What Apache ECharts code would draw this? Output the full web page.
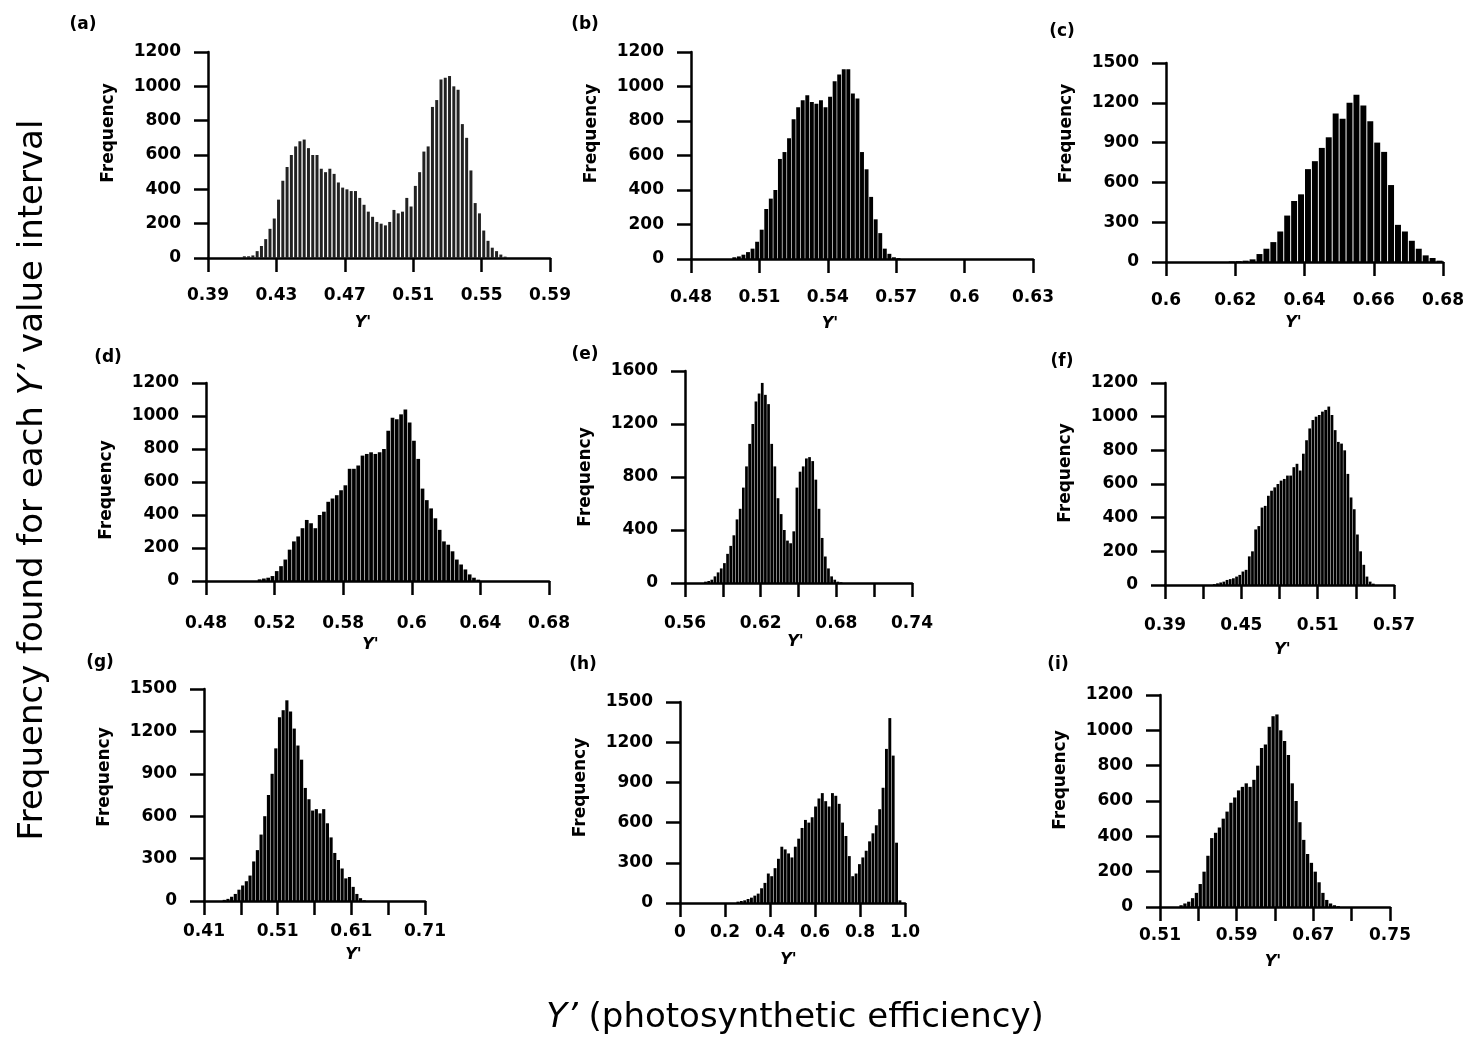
<!DOCTYPE html>
<html>
<head>
<meta charset="utf-8">
<script src="https://cdn.jsdelivr.net/npm/echarts@6/dist/echarts.min.js"></script>
<style>
html, body { margin: 0; padding: 0; background: #fff; }
#chart { width: 1467px; height: 1037px; }
</style>
</head>
<body>
<div id="chart"></div>
<script>
// bin counts (first bin edge + bin width)
var startA = 0.41, widthA = 0.0025;
var countsA = [10, 10, 15, 40, 70, 110, 170, 230, 340, 450, 530, 600, 650, 680, 690, 640, 600, 600, 520, 500,
  520, 490, 440, 410, 400, 390, 390, 350, 310, 270, 240, 210, 200, 190, 210, 280, 260, 270, 350, 300,
  420, 500, 620, 650, 880, 920, 1040, 1050, 1060, 1000, 980, 780, 700, 510, 320, 260, 160, 100, 60, 40, 20, 8];

var startB = 0.498, widthB = 0.002;
var countsB = [10, 15, 25, 40, 60, 100, 170, 290, 350, 400, 580, 620, 700, 810, 880, 920, 950, 910, 900, 920,
  880, 940, 1030, 1070, 1100, 1100, 960, 930, 620, 520, 360, 230, 150, 60, 30, 10, 5];

var startC = 0.618, widthC = 0.002;
var countsC = [4, 6, 10, 20, 60, 100, 150, 230, 350, 460, 510, 700, 760, 860, 940, 1120, 1080, 1200, 1260, 1180,
  1060, 900, 830, 580, 280, 230, 160, 100, 50, 30, 10];

var startD = 0.51, widthD = 0.0025;
var countsD = [10, 15, 20, 30, 60, 90, 130, 190, 240, 270, 320, 370, 350, 320, 400, 420, 480, 500, 520, 550,
  580, 680, 680, 700, 760, 770, 780, 770, 780, 800, 910, 990, 980, 1010, 1040, 960, 850, 740, 560, 490,
  440, 380, 310, 240, 220, 180, 130, 100, 70, 40, 20, 8];

var startE = 0.575, widthE = 0.0025;
var countsE = [10, 15, 25, 50, 80, 110, 150, 220, 280, 360, 480, 560, 720, 880, 1050, 1200, 1370, 1430, 1510, 1420,
  1350, 1050, 880, 640, 520, 400, 320, 300, 390, 720, 840, 880, 940, 950, 920, 780, 560, 340, 200, 110,
  50, 25, 10, 5];

var startF = 0.4275, widthF = 0.0025;
var countsF = [5, 10, 15, 20, 30, 35, 40, 50, 60, 80, 90, 170, 200, 330, 350, 460, 470, 530, 560, 580,
  600, 620, 630, 650, 650, 700, 720, 680, 780, 860, 930, 980, 1000, 1010, 1030, 1040, 1060, 1010, 920, 850,
  840, 800, 660, 520, 450, 300, 200, 120, 50, 20, 8];

var startG = 0.435, widthG = 0.005;
var countsG = [8, 15, 30, 50, 80, 110, 140, 180, 280, 360, 470, 600, 750, 900, 1080, 1300, 1350, 1420, 1340, 1220,
  1100, 1000, 800, 720, 640, 650, 620, 650, 550, 450, 340, 290, 230, 160, 170, 100, 50, 20, 5];

var startH = 0.25, widthH = 0.015;
var countsH = [10, 15, 20, 30, 40, 55, 70, 110, 150, 220, 200, 260, 330, 420, 400, 370, 340, 420, 480, 560,
  620, 600, 640, 720, 780, 820, 760, 720, 820, 800, 740, 600, 500, 350, 200, 220, 290, 340, 390, 460,
  520, 580, 700, 860, 1150, 1380, 1100, 450, 20];

var startI = 0.53, widthI = 0.004;
var countsI = [10, 20, 30, 50, 80, 130, 200, 290, 390, 420, 450, 500, 540, 590, 620, 660, 680, 700, 680, 720,
  800, 900, 920, 1020, 1080, 1090, 1000, 940, 860, 700, 600, 480, 380, 300, 250, 200, 140, 80, 40, 20, 10, 5];

// x axis ticks and the labels printed under them
var ticksA = [0.39, 0.43, 0.47, 0.51, 0.55, 0.59];
var labelsA = ['0.39', '0.43', '0.47', '0.51', '0.55', '0.59'];
var ticksB = [0.48, 0.51, 0.54, 0.57, 0.6, 0.63];
var labelsB = ['0.48', '0.51', '0.54', '0.57', '0.6', '0.63'];
var ticksC = [0.6, 0.62, 0.64, 0.66, 0.68];
var labelsC = ['0.6', '0.62', '0.64', '0.66', '0.68'];
var ticksD = [0.48, 0.52, 0.56, 0.6, 0.64, 0.68];
var labelsD = ['0.48', '0.52', '0.58', '0.6', '0.64', '0.68'];
var ticksE = [0.56, 0.59, 0.62, 0.65, 0.68, 0.71, 0.74];
var labelTicksE = [0.56, 0.62, 0.68, 0.74];
var labelsE = ['0.56', '0.62', '0.68', '0.74'];
var ticksF = [0.39, 0.42, 0.45, 0.48, 0.51, 0.54, 0.57];
var labelTicksF = [0.39, 0.45, 0.51, 0.57];
var labelsF = ['0.39', '0.45', '0.51', '0.57'];
var ticksG = [0.41, 0.46, 0.51, 0.56, 0.61, 0.66, 0.71];
var labelTicksG = [0.41, 0.51, 0.61, 0.71];
var labelsG = ['0.41', '0.51', '0.61', '0.71'];
var ticksH = [0, 0.2, 0.4, 0.6, 0.8, 1.0];
var labelsH = ['0', '0.2', '0.4', '0.6', '0.8', '1.0'];
var ticksI = [0.51, 0.55, 0.59, 0.63, 0.67, 0.71, 0.75];
var labelTicksI = [0.51, 0.59, 0.67, 0.75];
var labelsI = ['0.51', '0.59', '0.67', '0.75'];

// y axis ranges
var yMax = [1200, 1200, 1500, 1200, 1600, 1200, 1500, 1500, 1200];
var yStep = [200, 200, 300, 200, 400, 200, 300, 300, 200];

var panels = [
  { tag: '(a)', counts: countsA, start: startA, width: widthA, ticks: ticksA, labelTicks: ticksA, labels: labelsA },
  { tag: '(b)', counts: countsB, start: startB, width: widthB, ticks: ticksB, labelTicks: ticksB, labels: labelsB },
  { tag: '(c)', counts: countsC, start: startC, width: widthC, ticks: ticksC, labelTicks: ticksC, labels: labelsC },
  { tag: '(d)', counts: countsD, start: startD, width: widthD, ticks: ticksD, labelTicks: ticksD, labels: labelsD },
  { tag: '(e)', counts: countsE, start: startE, width: widthE, ticks: ticksE, labelTicks: labelTicksE, labels: labelsE },
  { tag: '(f)', counts: countsF, start: startF, width: widthF, ticks: ticksF, labelTicks: labelTicksF, labels: labelsF },
  { tag: '(g)', counts: countsG, start: startG, width: widthG, ticks: ticksG, labelTicks: labelTicksG, labels: labelsG },
  { tag: '(h)', counts: countsH, start: startH, width: widthH, ticks: ticksH, labelTicks: ticksH, labels: labelsH },
  { tag: '(i)', counts: countsI, start: startI, width: widthI, ticks: ticksI, labelTicks: labelTicksI, labels: labelsI }
];

// pixel layout of each panel
var layout = [
  { left: 208, top: 52, width: 342, height: 206, tx: 83, ty: 25, margin: 29, gap: 57, shift: -16, up: 22 },
  { left: 691, top: 52, width: 342, height: 207, tx: 585, ty: 25, margin: 30, gap: 57, shift: -32, up: 22 },
  { left: 1166, top: 63, width: 277, height: 199, tx: 1062, ty: 32, margin: 30, gap: 53, shift: -11, up: 29 },
  { left: 206, top: 383, width: 343, height: 198, tx: 108, ty: 358, margin: 34, gap: 56, shift: -7, up: -8 },
  { left: 685, top: 371, width: 227, height: 212, tx: 585, ty: 355, margin: 32, gap: 51, shift: -3, up: 0 },
  { left: 1165, top: 383, width: 229, height: 202, tx: 1062, ty: 362, margin: 32, gap: 57, shift: 3, up: 11 },
  { left: 204, top: 689, width: 221, height: 212, tx: 100, ty: 663, margin: 22, gap: 46, shift: 39, up: 18 },
  { left: 680, top: 702, width: 225, height: 201, tx: 583, ty: 665, margin: 21, gap: 49, shift: -4, up: 15 },
  { left: 1160, top: 695, width: 230, height: 212, tx: 1058, ty: 665, margin: 20, gap: 47, shift: -2, up: 21 }
];

var FONT = 'DejaVu Sans';

function histogram(counts, start, width) {
  return counts.map(function (c, i) {
    return [+(start + (i + 0.5) * width).toFixed(6), c];
  });
}

function pickLabel(values, labels) {
  return function (v) {
    for (var i = 0; i < values.length; i++) {
      if (Math.abs(values[i] - v) < 1e-9) return labels[i];
    }
    return '';
  };
}

var grids = [], xAxes = [], yAxes = [], series = [], graphics = [];
var lineStyle = { color: '#000', width: 2.5 };
var labelStyle = { color: '#000', fontFamily: FONT, fontWeight: 'bold', fontSize: 17 };

panels.forEach(function (p, k) {
  var l = layout[k];
  grids.push({ left: l.left, top: l.top, width: l.width, height: l.height, outerBoundsMode: 'none' });

  xAxes.push({
    type: 'value', gridIndex: k,
    min: p.ticks[0], max: p.ticks[p.ticks.length - 1],
    axisLine: { onZero: false, lineStyle: lineStyle },
    axisTick: { customValues: p.ticks, length: 14, lineStyle: lineStyle },
    axisLabel: Object.assign({ customValues: p.labelTicks, formatter: pickLabel(p.labelTicks, p.labels), margin: l.margin }, labelStyle),
    splitLine: { show: false },
    name: "Y'", nameLocation: 'middle', nameGap: l.gap,
    nameTextStyle: {
      color: '#000', fontFamily: FONT, fontWeight: 'bold', fontStyle: 'italic', fontSize: 16,
      padding: l.shift < 0 ? [0, -2 * l.shift, 0, 0] : [0, 0, 0, 2 * l.shift]
    }
  });

  yAxes.push({
    type: 'value', gridIndex: k, min: 0, max: yMax[k], interval: yStep[k],
    axisLine: { show: true, lineStyle: lineStyle },
    axisTick: { show: true, length: 14, lineStyle: lineStyle },
    axisLabel: Object.assign({ margin: 27, formatter: function (v) { return String(v); } }, labelStyle),
    splitLine: { show: false },
    name: 'Frequency', nameLocation: 'middle', nameGap: 91,
    nameTextStyle: {
      color: '#000', fontFamily: FONT, fontWeight: 'bold', fontSize: 17,
      padding: l.up > 0 ? [0, 0, 0, 2 * l.up] : [0, -2 * l.up, 0, 0]
    }
  });

  series.push({
    type: 'bar', xAxisIndex: k, yAxisIndex: k,
    data: histogram(p.counts, p.start, p.width),
    barWidth: k === 0 ? '70%' : '86%',
    itemStyle: { color: k === 0 ? '#222' : '#000' },
    silent: true
  });

  graphics.push({
    type: 'text', x: l.tx, y: l.ty,
    style: {
      text: p.tag, fill: '#000', fontFamily: FONT, fontWeight: 'bold', fontSize: 17,
      align: 'center', verticalAlign: 'middle'
    }
  });
});

var titleStyle = { fill: '#000', fontFamily: FONT, fontWeight: 'normal', fontSize: 34, align: 'center', verticalAlign: 'middle' };
var italicPart = { fontStyle: 'italic', fontFamily: FONT, fontSize: 34, fill: '#000' };

graphics.push({
  type: 'text', x: 33, y: 480, rotation: Math.PI / 2,
  style: Object.assign({ text: 'Frequency found for each {i|Y\u2019} value interval', rich: { i: italicPart } }, titleStyle)
});
graphics.push({
  type: 'text', x: 795, y: 1018,
  style: Object.assign({ text: '{i|Y\u2019} (photosynthetic efficiency)', rich: { i: italicPart } }, titleStyle)
});

var chart = echarts.init(document.getElementById('chart'));
chart.setOption({
  animation: false,
  backgroundColor: '#fff',
  grid: grids,
  xAxis: xAxes,
  yAxis: yAxes,
  series: series,
  graphic: graphics
});
</script>
</body>
</html>
